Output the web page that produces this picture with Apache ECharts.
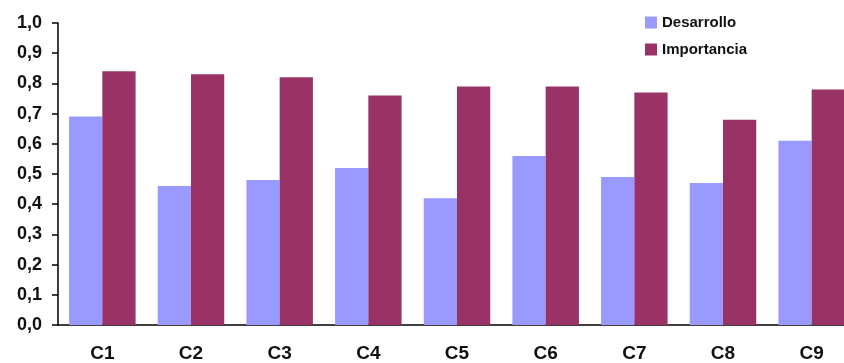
<!DOCTYPE html>
<html>
<head>
<meta charset="utf-8">
<script src="https://cdn.jsdelivr.net/npm/echarts@6/dist/echarts.min.js"></script>
<style>
  html, body { margin: 0; padding: 0; background: #fff; }
  #chart { width: 844px; height: 363px; }
</style>
</head>
<body>
<div id="chart"></div>
<script>
// Categories and the two series per category
const categories = ['C1', 'C2', 'C3', 'C4', 'C5', 'C6', 'C7', 'C8', 'C9'];
const desarrollo = [0.69, 0.46, 0.48, 0.52, 0.42, 0.56, 0.49, 0.47, 0.61];
const importancia = [0.84, 0.83, 0.82, 0.76, 0.79, 0.79, 0.77, 0.68, 0.78];

const FONT = '"Liberation Sans", Arial, sans-serif';

const chart = echarts.init(document.getElementById('chart'), null, { renderer: 'canvas' });

chart.setOption({
  backgroundColor: '#ffffff',
  animation: false,
  // plot area runs slightly past the right edge of the canvas
  grid: { left: 58, width: 798, top: 23, bottom: 38, outerBoundsMode: 'none', containLabel: false },
  legend: {
    orient: 'vertical',
    left: 640,
    top: 10,
    itemWidth: 12,
    itemHeight: 12,
    itemGap: 12,
    icon: 'rect',
    textStyle: { fontFamily: FONT, fontWeight: 'bold', fontSize: 15, color: '#111' },
    data: ['Desarrollo', 'Importancia']
  },
  xAxis: {
    type: 'category',
    data: categories,
    axisLine: { lineStyle: { color: '#000', width: 1.5 } },
    axisTick: { show: false },
    axisLabel: { margin: 19, fontFamily: FONT, fontWeight: 'bold', fontSize: 19, color: '#111' }
  },
  yAxis: {
    type: 'value',
    min: 0,
    max: 1,
    interval: 0.1,
    axisLine: { show: true, lineStyle: { color: '#000', width: 1.5 } },
    axisTick: { show: true, inside: false, length: 6, lineStyle: { color: '#000', width: 1.5 } },
    splitLine: { show: false },
    axisLabel: {
      margin: 16,
      fontFamily: FONT,
      fontWeight: 'bold',
      fontSize: 18,
      color: '#111',
      formatter: v => v.toFixed(1).replace('.', ',')
    }
  },
  series: [
    {
      name: 'Desarrollo',
      type: 'bar',
      data: desarrollo,
      barGap: '0%',
      barCategoryGap: '25%',
      itemStyle: { color: '#9999ff' }
    },
    {
      name: 'Importancia',
      type: 'bar',
      data: importancia,
      barGap: '0%',
      barCategoryGap: '25%',
      itemStyle: { color: '#993366' }
    }
  ]
});
</script>
</body>
</html>
